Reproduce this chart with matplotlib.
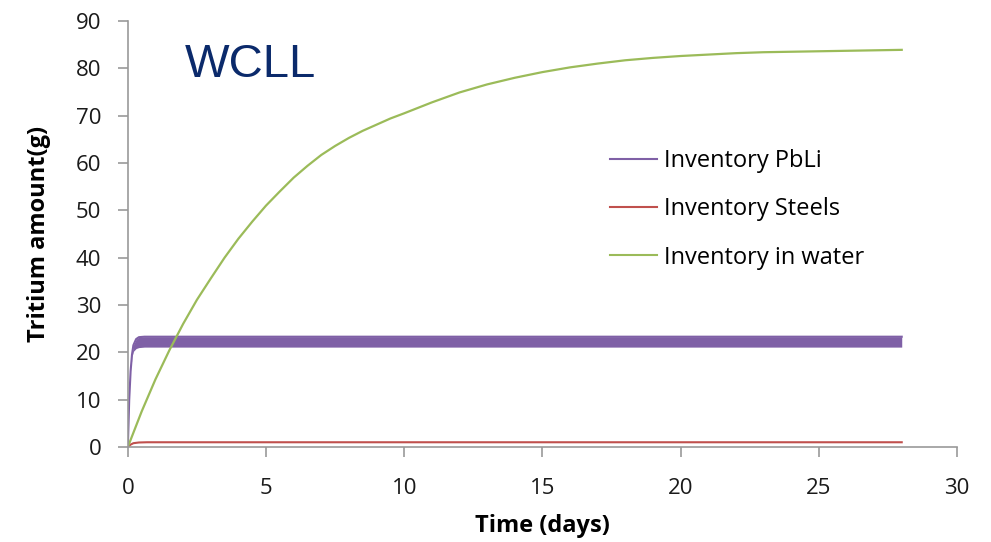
import numpy as np
import matplotlib
matplotlib.use("Agg")
from matplotlib import pyplot as plt

# tiempo (dias) y inventario en agua (g)
t_agua = [0, 0.5, 1, 1.5, 2, 2.5, 3, 3.5, 4, 4.5, 5, 5.5, 6, 6.5, 7, 7.5,
          8, 8.5, 9, 9.5, 10, 11, 12, 13, 14, 15, 16, 17, 18, 19, 20, 21,
          22, 23, 24, 26, 28]
inv_agua = [0, 7.5, 14.3, 20.4, 26.0, 31.1, 35.6, 40.0, 44.0, 47.6, 51.0,
            54.0, 56.9, 59.4, 61.7, 63.6, 65.3, 66.8, 68.1, 69.4, 70.5,
            72.8, 74.9, 76.6, 78.0, 79.2, 80.2, 81.0, 81.7, 82.2, 82.6, 82.9,
            83.2, 83.4, 83.5, 83.7, 83.9]

# PbLi oscila rapido: banda entre borde inferior y superior
t_pbli = [0, 0.05, 0.1, 0.15, 0.2, 0.3, 0.4, 0.6, 28]
pbli_sup = [0, 10, 16, 19.5, 21.5, 22.8, 23.2, 23.3, 23.3]
pbli_inf = [0, 10, 16, 19.0, 20.2, 20.8, 21.0, 21.1, 21.1]

t_acero = [0, 0.1, 0.2, 0.4, 0.7, 28]
inv_acero = [0, 0.5, 0.8, 0.95, 1.0, 1.0]

etiquetas = ["Inventory PbLi", "Inventory Steels", "Inventory in water"]
colores = ["#7F60A6", "#C0504D", "#9BBB59"]

plt.rcParams['font.family'] = ['Open Sans', 'DejaVu Sans']

fig = plt.figure(figsize=(9.91, 5.42), dpi=100)
ax = fig.add_axes([0.129, 0.1753, 0.8367, 0.786])

ax.fill_between(t_pbli, pbli_inf, pbli_sup, color=colores[0], lw=0)
ax.plot(t_pbli, pbli_sup, color=colores[0], lw=1.5, label=etiquetas[0])
ax.plot(t_acero, inv_acero, color=colores[1], lw=1.5, label=etiquetas[1])
ax.plot(t_agua, inv_agua, color=colores[2], lw=1.6, label=etiquetas[2])

ax.set_xlim(0, 30)
ax.set_ylim(0, 90)
ax.set_xticks(range(0, 31, 5))
ax.set_yticks(range(0, 91, 10))

for s in ["top", "right"]:
    ax.spines[s].set_visible(False)
for s in ["left", "bottom"]:
    ax.spines[s].set_color("#999999")
    ax.spines[s].set_linewidth(1.2)
ax.tick_params(colors="#999999", length=7, width=1.2, labelsize=16,
               labelcolor="#1a1a1a")
ax.tick_params(axis="y", pad=12)
ax.tick_params(axis="x", pad=15)

ax.set_xlabel("Time (days)", fontsize=17, fontweight="bold", labelpad=11)
ax.set_ylabel("Tritium amount(g)", fontsize=17, fontweight="bold", labelpad=18)

ax.text(2.06, 80.7, "WCLL", fontsize=34, color="#0B2A6B",
        family="Liberation Sans", va="center", ha="left")

leg = ax.legend(loc="upper left", bbox_to_anchor=(0.581, 0.6995), frameon=False,
                fontsize=17, handlelength=2.0, handletextpad=0.3,
                labelspacing=1.03, borderpad=0, borderaxespad=0)
for l in leg.get_lines():
    l.set_linewidth(1.5)

fig.savefig("out.png", dpi=100)
